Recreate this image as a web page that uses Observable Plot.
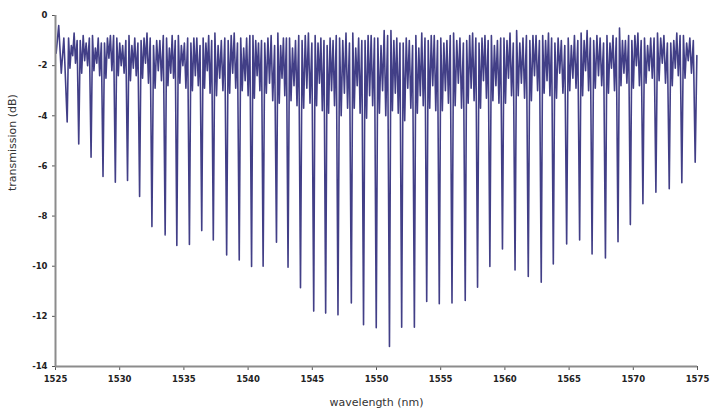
<!DOCTYPE html>
<html>
<head>
<meta charset="utf-8">
<script src="https://cdn.jsdelivr.net/npm/d3@7"></script>
<script src="https://cdn.jsdelivr.net/npm/@observablehq/plot@0.6"></script>
<style>
  html, body { margin: 0; padding: 0; background: #fff; }
  #chart { width: 710px; height: 414px; }
</style>
</head>
<body>
<div id="chart"></div>
<script>
// Deep transmission dips (wavelength in nm, transmission in dB)
const dipNm = [1525.91,1526.81,1527.77,1528.70,1529.66,1530.61,1531.55,1532.51,1533.54,1534.45,
  1535.43,1536.39,1537.29,1538.33,1539.31,1540.27,1541.17,1542.21,1543.11,1544.08,
  1545.11,1546.04,1547.00,1548.04,1548.99,1549.98,1551.01,1551.96,1552.95,1553.91,
  1554.89,1555.88,1556.91,1557.87,1558.83,1559.81,1560.79,1561.82,1562.83,1563.77,
  1564.81,1565.82,1566.79,1567.83,1568.81,1569.77,1570.75,1571.76,1572.80,1573.78,1574.82];
const dipDb = [-4.25,-5.12,-5.65,-6.42,-6.65,-6.58,-7.22,-8.42,-8.75,-9.17,
  -9.13,-8.58,-8.95,-9.55,-9.75,-10.01,-10.0,-9.04,-10.04,-10.86,
  -11.79,-11.87,-11.94,-11.47,-12.33,-12.45,-13.2,-12.43,-12.43,-11.41,
  -11.5,-11.47,-11.37,-10.84,-10.01,-9.31,-10.15,-10.41,-10.64,-9.91,
  -9.11,-8.95,-9.51,-9.67,-9.02,-8.34,-7.51,-7.05,-6.91,-6.67,-5.85];

// Ripple between dips: successive peaks and troughs of the upper band (dB), one per period
const top1 = [-0.9,-1.0,-0.8,-1.1,-0.9,-0.8,-1.0,-1.2,-0.9,-0.8,-1.1,-0.9,-0.7,-1.0,-0.9,-0.8,-1.1,-0.7,-0.9,-1.0,
  -0.8,-1.2,-0.9,-0.7,-1.0,-0.9,-0.6,-1.1,-0.8,-1.0,-0.9,-0.7,-1.0,-1.1,-0.8,-0.9,-0.6,-1.0,-0.8,-1.1,
  -0.9,-0.7,-1.0,-0.8,-0.5,-1.0,-0.9,-0.7,-1.1,-0.8];
const low1 = [-2.1,-2.3,-2.2,-2.5,-2.4,-2.6,-2.5,-2.9,-2.8,-2.7,-3.0,-2.9,-3.2,-3.1,-3.0,-3.3,-3.1,-3.5,-3.4,-3.7,
  -3.6,-3.9,-4.0,-3.7,-4.1,-3.9,-3.8,-4.2,-3.9,-3.7,-3.8,-3.6,-3.5,-3.7,-3.4,-3.5,-3.2,-3.4,-3.1,-3.3,
  -3.0,-3.2,-2.9,-3.1,-2.8,-2.9,-2.7,-2.6,-2.8,-2.5];
const top2 = [-1.2,-0.8,-1.3,-0.9,-1.1,-1.2,-0.9,-1.0,-1.3,-1.2,-0.9,-1.1,-1.2,-0.8,-1.3,-1.0,-0.9,-1.2,-1.3,-0.8,
  -1.1,-0.9,-1.0,-1.3,-0.8,-1.2,-1.0,-0.9,-1.3,-0.8,-1.1,-1.0,-0.8,-0.9,-1.2,-1.0,-1.1,-0.8,-1.0,-0.9,
  -1.2,-1.0,-0.8,-1.1,-1.0,-0.8,-1.2,-0.9,-1.0,-1.1];
const low2 = [-1.6,-1.8,-1.9,-1.7,-2.0,-2.1,-1.9,-2.2,-2.3,-2.0,-2.4,-2.2,-2.5,-2.3,-2.6,-2.4,-2.7,-2.5,-2.8,-2.9,
  -2.7,-3.0,-3.1,-2.8,-3.2,-3.0,-3.1,-2.9,-3.2,-2.8,-3.0,-2.7,-2.9,-2.6,-2.8,-2.5,-2.7,-2.4,-2.6,-2.3,
  -2.5,-2.2,-2.4,-2.1,-2.3,-2.0,-2.2,-1.9,-2.1,-1.8];
const top3 = [-0.7,-1.1,-0.9,-0.8,-1.2,-0.9,-0.7,-1.0,-0.8,-1.1,-0.9,-0.8,-1.0,-0.7,-0.9,-1.1,-0.8,-0.9,-1.0,-0.7,
  -0.9,-1.0,-0.7,-0.9,-0.8,-0.6,-0.9,-1.0,-0.7,-0.8,-1.0,-0.9,-0.7,-0.8,-1.0,-0.7,-0.9,-0.8,-0.7,-1.0,
  -0.8,-0.6,-0.9,-0.8,-1.0,-0.7,-0.9,-0.8,-0.7,-0.9];
const low3 = [-1.9,-2.0,-2.4,-2.2,-2.3,-2.4,-2.7,-2.6,-2.5,-2.9,-2.8,-3.1,-3.0,-2.9,-3.2,-3.0,-3.4,-3.2,-3.6,-3.5,
  -3.8,-3.6,-3.7,-3.9,-3.6,-4.0,-3.9,-3.7,-3.6,-3.8,-3.5,-3.7,-3.4,-3.3,-3.5,-3.2,-3.3,-3.0,-3.2,-3.1,
  -2.9,-3.0,-2.8,-3.0,-2.7,-2.8,-2.5,-2.7,-2.4,-2.3];
const top4 = [-1.0,-0.9,-1.1,-0.8,-1.0,-1.1,-0.9,-0.8,-1.0,-0.9,-1.2,-1.0,-0.9,-1.1,-0.8,-1.0,-1.2,-0.9,-0.8,-1.1,
  -1.0,-0.8,-1.1,-1.0,-0.9,-0.8,-1.1,-1.2,-0.9,-1.0,-0.8,-1.1,-0.9,-1.0,-0.9,-1.1,-0.8,-1.0,-0.9,-1.2,
  -1.0,-0.9,-1.1,-0.9,-0.8,-1.0,-0.9,-1.1,-0.8,-1.0];

// Start and end of the trace
const leadNm = [1525.05, 1525.25, 1525.45, 1525.65];
const leadDb = [-1.5, -0.4, -2.3, -0.9];
const tailNm = [1574.95];
const tailDb = [-1.6];

const xTicks = [1525,1530,1535,1540,1545,1550,1555,1560,1565,1570,1575];
const yTicks = [0,-2,-4,-6,-8,-10,-12,-14];

// Build the trace table
const rows = [];
leadNm.forEach((nm, i) => rows.push({nm, db: leadDb[i]}));
const ripple = [top1, low1, top2, low2, top3, low3, top4];
const pos = [0.12, 0.24, 0.36, 0.48, 0.60, 0.72, 0.86];
for (let i = 0; i < dipNm.length - 1; i++) {
  rows.push({nm: dipNm[i], db: dipDb[i]});
  const span = dipNm[i + 1] - dipNm[i];
  ripple.forEach((arr, k) => rows.push({nm: dipNm[i] + pos[k] * span, db: arr[i]}));
}
rows.push({nm: dipNm[dipNm.length - 1], db: dipDb[dipDb.length - 1]});
tailNm.forEach((nm, i) => rows.push({nm, db: tailDb[i]}));

const font = "DejaVu Sans, Arial, sans-serif";
const chart = Plot.plot({
  width: 710,
  height: 414,
  marginLeft: 55,
  marginRight: 13,
  marginTop: 15,
  marginBottom: 48,
  style: {fontFamily: font, background: "#fff", color: "#222"},
  x: {domain: [1525, 1575]},
  y: {domain: [-14, 0]},
  marks: [
    Plot.axisX(xTicks, {tickSize: 4, tickPadding: 5, tickFormat: d => String(d), fontSize: 8.5, fontWeight: "bold", label: null, stroke: "#555"}),
    Plot.axisY(yTicks, {tickSize: 3, tickPadding: 5, tickFormat: d => String(d), fontSize: 8.5, fontWeight: "bold", label: null, stroke: "#555"}),
    Plot.line(rows, {x: "nm", y: "db", stroke: "#2d2a7a", strokeWidth: 1.6, strokeOpacity: 0.9}),
    Plot.ruleX([1525], {stroke: "#8c8c8c", strokeWidth: 2}),
    Plot.ruleY([-14], {stroke: "#8c8c8c", strokeWidth: 2}),
    Plot.text(["wavelength (nm)"], {frameAnchor: "bottom", dy: 39, fontSize: 11, fill: "#333", letterSpacing: 0.8}),
    Plot.text(["transmission (dB)"], {frameAnchor: "left", dx: -43, rotate: -90, fontSize: 11, fill: "#333", letterSpacing: 0.8})
  ]
});
document.getElementById("chart").appendChild(chart);
</script>
</body>
</html>
